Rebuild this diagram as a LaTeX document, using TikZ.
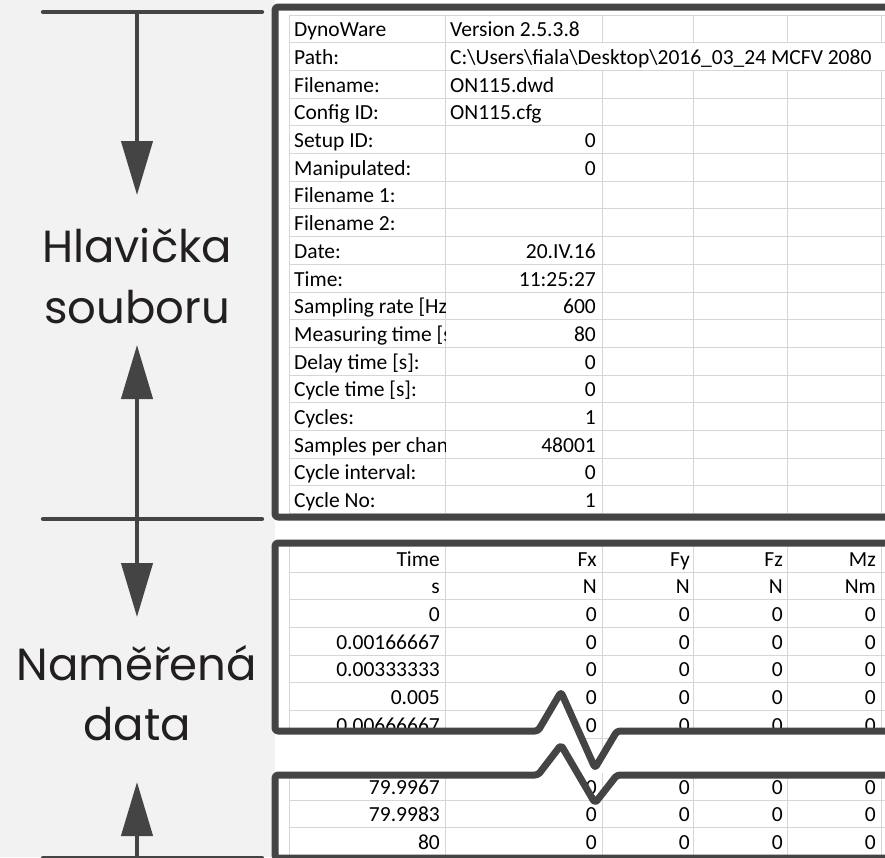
\documentclass[tikz,border=0pt]{standalone}
\usepackage{fontspec}
\setmainfont{Carlito}
\newfontfamily\labelfont{Poppins}
\usepackage{xcolor}
\usetikzlibrary{arrows.meta, positioning}
\definecolor{framegray}{RGB}{68,68,68}
\definecolor{gridgray}{RGB}{214,214,214}
\definecolor{panelgray}{RGB}{242,242,242}
\definecolor{labeltext}{RGB}{35,31,32}

\begin{document}
\begin{tikzpicture}[
    x=1pt, y=-1pt,
    sheetframe/.style={draw=framegray, line width=7pt, rounded corners=3pt, line join=round},
    tickline/.style={draw=framegray, line width=4.3pt, line cap=round},
    spanarrow/.style={draw=framegray, line width=4.3pt,
                      -{Triangle[width=31pt, length=54pt]}},
    gridline/.style={draw=gridgray, line width=1pt},
    cell/.style={inner sep=0pt, font=\fontsize{21.5}{25}\selectfont},
    lcell/.style={cell, anchor=base west},
    rcell/.style={cell, anchor=base east},
    partlabel/.style={anchor=base, inner sep=0pt, text=labeltext,
                      font=\labelfont\fontsize{45}{54}\selectfont}
  ]
  \useasboundingbox (0,0) rectangle (885,857);
  \fill[white] (0,0) rectangle (885,857);
  \fill[panelgray] (0,0) rectangle (275,857);

  % spans on the left
  \coordinate (tw0) at (43,12);  \coordinate (te0) at (262,12);
  \coordinate (tw1) at (43,519); \coordinate (te1) at (262,519);
  \coordinate (tw2) at (43,858); \coordinate (te2) at (262,858);
  \coordinate (t0) at (137,12);
  \coordinate (t1) at (137,519);
  \coordinate (t2) at (137,858);
  \coordinate (tip0) at (137,195);
  \coordinate (tip1) at (137,345);
  \coordinate (tip2) at (137,617);
  \coordinate (tip3) at (137,782);
  \draw[tickline] (tw0) -- (te0);
  \draw[tickline] (tw1) -- (te1);
  \draw[tickline] (tw2) -- (te2);
  \draw[spanarrow] (t0) -- (tip0);
  \draw[spanarrow] (t1) -- (tip1);
  \draw[spanarrow] (t1) -- (tip2);
  \draw[spanarrow] (t2) -- (tip3);

  \node[partlabel] (head1) at (137,262) {Hlavička};
  \node[partlabel] (head2) at (137,323) {souboru};
  \node[partlabel] (data1) at (137,680) {Naměřená};
  \node[partlabel] (data2) at (137,740) {data};

  % file header sheet
  \foreach \k in {0,...,18}
    \draw[gridline] (289,{15+27.7*\k}) -- (890,{15+27.7*\k});
  \foreach \x in {289,445}
    \draw[gridline] (\x,15) -- (\x,513.6);
  \foreach \x in {602,693,787,881} {
    \draw[gridline] (\x,15) -- (\x,42.7);
    \draw[gridline] (\x,70.4) -- (\x,513.6);
  }
  \begin{scope}
    \clip (289,15) rectangle (445,514);
    \foreach \lab [count=\i from 0] in {DynoWare, Path:, Filename:, Config ID:,
        Setup ID:, Manipulated:, Filename 1:, Filename 2:, Date:, Time:,
        Sampling rate [Hz, Measuring time [s, Delay time [s]:, Cycle time [s]:,
        Cycles:, Samples per chan, Cycle interval:, Cycle No:}
      \node[lcell] (key\i) at (294,{36.7+27.7*\i}) {\lab};
  \end{scope}
  \node[lcell] (val0) at (450,36.7) {Version 2.5.3.8};
  \node[lcell] (val1) at (450,64.4)
    {C:\textbackslash Users\textbackslash fiala\textbackslash Desktop\textbackslash 2016\_03\_24 MCFV 2080};
  \node[lcell] (val2) at (450,92.1) {ON115.dwd};
  \node[lcell] (val3) at (450,119.8) {ON115.cfg};
  \foreach \i/\v in {4/0, 5/0, 8/20.IV.16, 9/11:25:27, 10/600, 11/80, 12/0,
                     13/0, 14/1, 15/48001, 16/0, 17/1}
    \node[rcell] (val\i) at (596,{36.7+27.7*\i}) {\v};
  \draw[sheetframe] (900,7) -- (275,7) -- (275,517) -- (900,517);

  % measured data, first rows
  \begin{scope}
    \clip (275,543) -- (900,543) -- (900,731) -- (617,731) -- (595,768)
      -- (561,692) -- (538,731) -- (275,731) -- cycle;
    \foreach \k in {0,...,7}
      \draw[gridline] (289,{544.5+27.65*\k}) -- (890,{544.5+27.65*\k});
    \foreach \x in {289,445,602,693,787,881}
      \draw[gridline] (\x,544.5) -- (\x,770);
    \foreach \t [count=\i from 0] in {Time, s, 0, 0.00166667, 0.00333333,
                                      0.005, 0.00666667}
      \node[rcell] (time\i) at (440,{566.2+27.65*\i}) {\t};
    \foreach \x/\h/\u [count=\c] in {597/Fx/N, 690/Fy/N, 783/Fz/N, 876/Mz/Nm} {
      \node[rcell] (chan\c) at (\x,566.2) {\h};
      \node[rcell] (unit\c) at (\x,593.85) {\u};
      \foreach \i in {2,...,6}
        \node[rcell] (d\c-\i) at (\x,{566.2+27.65*\i}) {0};
    }
  \end{scope}
  \draw[sheetframe] (900,543) -- (275,543) -- (275,731) -- (538,731)
    -- (561,692) -- (595,768) -- (617,731) -- (900,731);

  % measured data, last rows
  \begin{scope}
    \clip (275,773) rectangle (900,870);
    \foreach \k in {0,...,3}
      \draw[gridline] (289,{772.4+27.7*\k}) -- (890,{772.4+27.7*\k});
    \foreach \x in {289,445,602,693,787,881}
      \draw[gridline] (\x,772.4) -- (\x,870);
    \foreach \t [count=\i from 0] in {79.9967, 79.9983, 80} {
      \node[rcell] (tail\i) at (440,{794.1+27.7*\i}) {\t};
      \foreach \x [count=\c] in {597,690,783,876}
        \node[rcell] (e\c-\i) at (\x,{794.1+27.7*\i}) {0};
    }
  \end{scope}
  \draw[sheetframe] (900,858) -- (275,858) -- (275,775) -- (538,775)
    -- (561,745) -- (595,803) -- (617,775) -- (900,775);
\end{tikzpicture}
\end{document}
